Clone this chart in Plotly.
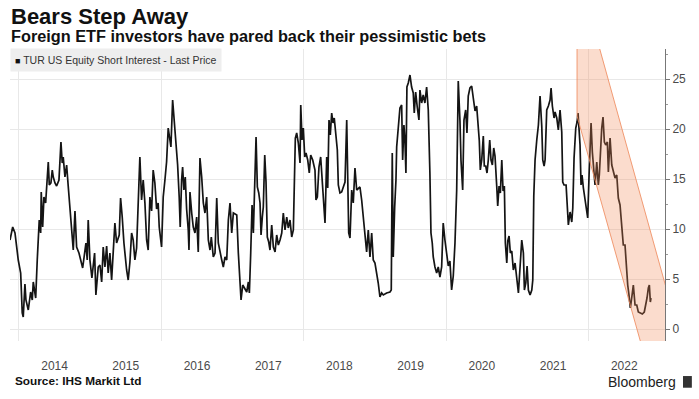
import datetime as dt
import plotly.graph_objects as go

# ---- data (decimal years, value) ----
years = [
2013.874,2013.912,2013.944,2013.990,2014.024,2014.046,2014.060,2014.084,2014.098,2014.131,
2014.164,2014.187,2014.201,2014.235,2014.257,2014.271,2014.285,2014.305,2014.313,2014.333,
2014.351,2014.375,2014.412,2014.426,2014.449,2014.468,2014.482,2014.506,2014.529,2014.562,
2014.590,2014.608,2014.622,2014.646,2014.670,2014.692,2014.716,2014.740,2014.763,2014.787,
2014.810,2014.843,2014.871,2014.895,2014.941,2014.959,2014.973,2014.997,2015.025,2015.063,
2015.081,2015.114,2015.138,2015.162,2015.184,2015.208,2015.232,2015.254,2015.278,2015.302,
2015.348,2015.372,2015.409,2015.428,2015.451,2015.475,2015.513,2015.535,2015.559,2015.583,
2015.605,2015.629,2015.653,2015.676,2015.699,2015.723,2015.746,2015.770,2015.794,2015.816,
2015.840,2015.864,2015.886,2015.910,2015.934,2015.956,2015.971,2016.004,2016.027,2016.051,
2016.074,2016.097,2016.121,2016.135,2016.159,2016.177,2016.201,2016.229,2016.251,2016.265,
2016.285,2016.299,2016.317,2016.336,2016.355,2016.378,2016.388,2016.402,2016.426,2016.448,
2016.472,2016.496,2016.518,2016.542,2016.566,2016.589,2016.612,2016.636,2016.659,2016.683,
2016.701,2016.729,2016.753,2016.777,2016.799,2016.823,2016.847,2016.869,2016.893,2016.917,
2016.940,2016.963,2016.987,2017.010,2017.058,2017.080,2017.104,2017.118,2017.142,2017.174,
2017.198,2017.221,2017.235,2017.254,2017.273,2017.291,2017.310,2017.329,2017.347,2017.367,
2017.385,2017.399,2017.417,2017.431,2017.451,2017.469,2017.487,2017.507,2017.525,2017.549,
2017.572,2017.596,2017.619,2017.642,2017.666,2017.690,2017.712,2017.736,2017.760,2017.782,
2017.806,2017.830,2017.853,2017.867,2017.881,2017.900,2017.923,2017.947,2017.957,2017.975,
2017.993,2018.013,2018.031,2018.055,2018.077,2018.097,2018.125,2018.157,2018.171,2018.190,
2018.213,2018.237,2018.256,2018.274,2018.298,2018.322,2018.336,2018.354,2018.372,2018.392,
2018.410,2018.428,2018.448,2018.471,2018.485,2018.508,2018.532,2018.555,2018.579,2018.603,
2018.617,2018.631,2018.649,2018.673,2018.695,2018.719,2018.743,2018.766,2018.789,2018.813,
2018.836,2018.860,2018.883,2018.906,2018.930,2018.954,2018.976,2019.000,2019.024,2019.046,
2019.070,2019.094,2019.117,2019.164,2019.211,2019.229,2019.243,2019.257,2019.277,2019.295,
2019.305,2019.327,2019.351,2019.375,2019.389,2019.407,2019.421,2019.435,2019.449,2019.468,
2019.492,2019.515,2019.538,2019.552,2019.572,2019.594,2019.618,2019.632,2019.656,2019.678,
2019.702,2019.726,2019.749,2019.772,2019.787,2019.805,2019.819,2019.843,2019.867,2019.889,
2019.913,2019.937,2019.959,2019.983,2020.030,2020.053,2020.077,2020.100,2020.124,2020.148,
2020.170,2020.194,2020.208,2020.232,2020.250,2020.274,2020.292,2020.310,2020.334,2020.358,
2020.381,2020.405,2020.428,2020.451,2020.465,2020.479,2020.499,2020.521,2020.535,2020.555,
2020.573,2020.591,2020.611,2020.629,2020.648,2020.667,2020.685,2020.709,2020.723,2020.742,
2020.760,2020.780,2020.798,2020.816,2020.830,2020.850,2020.864,2020.882,2020.900,2020.920,
2020.942,2020.966,2020.990,2021.013,2021.037,2021.060,2021.083,2021.097,2021.117,2021.135,
2021.153,2021.177,2021.201,2021.215,2021.229,2021.247,2021.271,2021.294,2021.317,2021.341,
2021.355,2021.374,2021.388,2021.411,2021.434,2021.458,2021.472,2021.490,2021.514,2021.528,
2021.552,2021.574,2021.598,2021.622,2021.636,2021.654,2021.683,2021.701,2021.715,2021.739,
2021.763,2021.777,2021.795,2021.819,2021.837,2021.851,2021.865,2021.879,2021.893,2021.907,
2021.926,2021.949,2021.973,2021.987,2022.006,2022.024,2022.034,2022.052,2022.076,2022.090,
2022.114,2022.136,2022.150,2022.170,2022.184,2022.202,2022.221,2022.240,2022.263,2022.277,
2022.301,2022.325,2022.347,2022.371,2022.395,2022.417,2022.441,2022.465,2022.487,2022.511,
2022.525,2022.549,2022.567,2022.586,2022.605,2022.628,2022.652,2022.676,2022.698,2022.722,
2022.754,2022.782,2022.802,2022.820,2022.839,2022.853,2022.867,2022.876,
]
short_interest = [
8.9,10.2,9.6,6.9,5.6,1.6,1.2,4.5,2.9,1.9,
3.7,2.9,4.7,3.1,6.9,8.9,10.9,9.6,13.7,10.2,
13.2,12.6,16.7,14.4,14.6,15.9,15.2,14.6,14.3,14.9,
18.7,16.6,17.2,15.2,16.4,14.3,12.0,10.2,7.9,11.8,
8.2,7.6,6.9,6.1,8.6,6.9,10.9,6.9,5.1,7.6,
3.4,6.2,6.4,4.7,8.2,6.2,8.3,5.6,7.6,4.9,
10.6,8.6,9.4,13.1,11.2,8.6,5.9,4.9,6.7,9.6,
8.9,6.9,8.1,13.6,17.2,12.9,14.9,12.6,8.9,7.9,
13.2,11.8,15.9,14.6,12.0,12.6,10.2,8.2,13.2,14.9,
16.7,20.1,18.9,18.2,22.9,21.2,18.9,16.4,13.2,10.2,
14.9,16.2,13.9,15.2,12.0,9.9,7.9,13.7,11.6,10.2,
9.6,11.2,7.7,17.1,15.2,12.6,11.6,13.2,8.9,7.9,
9.2,7.2,7.6,13.1,8.6,7.6,6.9,6.2,7.2,6.9,
10.9,12.6,9.6,11.6,11.4,7.6,4.2,2.9,4.4,3.9,
3.7,4.7,3.6,7.6,12.4,9.6,14.9,19.2,14.2,13.6,
12.6,9.4,11.2,12.2,17.4,14.7,9.2,8.7,7.9,10.4,
8.2,7.7,9.4,8.4,8.9,9.6,11.6,9.9,11.2,10.1,
10.9,9.2,9.9,15.2,19.1,19.6,18.6,16.6,22.4,18.9,
20.1,17.2,17.6,16.9,15.6,17.4,16.9,15.9,12.9,13.2,
16.2,17.2,14.9,12.9,10.6,17.2,14.1,20.9,19.4,21.6,
20.6,21.1,19.2,17.9,14.4,13.6,13.7,14.2,14.7,20.9,
12.9,9.6,9.1,13.9,12.6,16.1,13.9,14.1,14.2,12.9,
10.9,8.9,7.7,9.9,7.2,9.6,6.9,6.6,5.6,4.6,
3.2,3.6,3.4,3.6,3.7,3.9,17.6,7.2,12.2,14.9,
18.2,20.2,22.1,22.4,16.9,20.4,18.9,15.6,24.2,24.6,
25.4,24.2,23.6,21.6,23.7,22.2,20.9,23.9,22.6,23.4,
22.6,24.2,21.9,15.6,9.6,8.6,7.2,6.2,5.6,6.2,
5.2,6.2,10.6,8.9,6.3,6.8,3.9,5.3,8.6,13.9,
24.8,20.8,16.9,13.9,20.9,21.9,19.6,23.3,24.1,24.3,
23.3,21.8,22.3,19.9,18.8,15.9,16.9,19.3,16.3,16.3,
15.6,16.9,18.9,16.9,16.4,18.1,17.3,14.3,12.3,14.3,
13.6,16.9,13.8,14.3,8.6,6.6,8.8,9.3,7.6,7.8,
5.9,6.6,5.3,3.6,6.3,8.9,7.6,3.9,4.6,6.3,
3.9,3.4,3.9,4.9,13.3,16.9,18.9,20.4,23.3,20.3,
16.9,16.3,16.9,21.9,22.3,22.9,24.1,22.3,21.1,21.7,
21.1,19.9,21.9,19.7,14.7,14.4,14.4,12.7,10.4,11.7,
10.7,12.1,17.1,20.1,20.7,21.6,20.4,18.4,14.4,15.4,
14.1,13.1,12.1,11.1,15.4,19.7,20.6,17.7,15.4,14.4,
16.7,14.4,15.4,18.4,20.1,21.2,18.7,18.4,18.7,15.7,
19.1,16.4,15.7,15.1,15.4,13.1,12.4,10.1,8.4,8.4,
6.4,4.4,3.4,2.1,3.1,4.4,2.4,2.4,1.7,1.6,
1.5,1.7,2.4,3.1,4.1,4.4,2.7,3.1,
]

# downward-trend channel (annotation band), decimal years / values
band_years = [2021.837, 2021.837, 2022.078, 2023.367, 2022.797, 2021.837]
band_values = [21.3, 30.0, 30.0, -3.0, -3.0, 21.3]

year_labels = [2014, 2015, 2016, 2017, 2018, 2019, 2020, 2021, 2022]
grid_years = [2014, 2016, 2018, 2020, 2022]
y_ticks = [0, 5, 10, 15, 20, 25]

title = "Bears Step Away"
subtitle = "Foreign ETF investors have pared back their pessimistic bets"
series_name = "TUR US Equity Short Interest - Last Price"
source = "Source: IHS Markit Ltd"


def to_date(y):
    yr = int(y // 1)
    start = dt.datetime(yr, 1, 1)
    length = (dt.datetime(yr + 1, 1, 1) - start).total_seconds()
    return start + dt.timedelta(seconds=(y - yr) * length)


dates = [to_date(y) for y in years]
band_dates = [to_date(y) for y in band_years]

FONT = "Liberation Sans, Arial, sans-serif"

fig = go.Figure()
fig.add_trace(go.Scatter(
    x=dates, y=short_interest, mode="lines",
    line=dict(color="#141414", width=1.7),
    name=series_name, showlegend=False, hoverinfo="x+y",
))
fig.add_trace(go.Scatter(
    x=band_dates, y=band_values, mode="lines", fill="toself",
    fillcolor="rgba(242,140,90,0.30)",
    line=dict(color="rgba(238,140,95,0.85)", width=1),
    showlegend=False, hoverinfo="skip",
))

fig.update_layout(
    width=699, height=399,
    margin=dict(l=10, r=34, t=49, b=58),
    paper_bgcolor="white", plot_bgcolor="white",
    font=dict(family=FONT, color="#4a4a4a"),
    showlegend=False,
)

fig.update_xaxes(
    type="date",
    range=[to_date(2013.874), to_date(2023.073)],
    tickmode="array",
    tickvals=[to_date(y + 0.5) for y in year_labels],
    ticktext=[str(y) for y in year_labels],
    showgrid=False, ticks="", showline=False, zeroline=False,
    tickfont=dict(size=12, color="#4a4a4a"),
    ticklabelstandoff=16,
    minor=dict(tickmode="array", tickvals=[to_date(y) for y in grid_years],
               showgrid=True, gridcolor="#e8e8e8", gridwidth=1, ticks=""),
)
fig.update_yaxes(
    side="right", range=[-1.2, 28],
    tickmode="array", tickvals=y_ticks,
    showgrid=True, gridcolor="#e8e8e8", gridwidth=1,
    zeroline=False, showline=True, linecolor="#777777", linewidth=1,
    ticks="outside", ticklen=4, tickcolor="#777777",
    tickfont=dict(size=12, color="#4a4a4a"),
    minor=dict(dtick=2.5, ticks="outside", ticklen=2, tickcolor="#999999", showgrid=False),
)

# title + subtitle as one text block (two lines)
fig.add_annotation(x=0, y=1.1575, xref="paper", yref="paper", xanchor="left", yanchor="top",
                   text="<b><span style='font-size:22px'>" + title + "</span></b><br>"
                        "<b><span style='font-size:16.3px'>" + subtitle + "</span></b>",
                   showarrow=False, align="left", borderpad=0,
                   font=dict(size=14, color="#111111", family=FONT))
fig.add_annotation(x=0, y=0.961, xref="paper", yref="paper", xanchor="left", yanchor="middle",
                   text="<span style='font-size:9px;color:#111'>■</span> " + series_name,
                   showarrow=False, align="left", bgcolor="#eeeeee",
                   width=202, height=14, borderpad=4,
                   font=dict(size=10.5, color="#333333", family=FONT))
fig.add_annotation(x=0.004, y=-0.137, xref="paper", yref="paper", xanchor="left", yanchor="middle",
                   text="<b>" + source + "</b>", showarrow=False,
                   font=dict(size=11.8, color="#111111", family=FONT))
fig.add_annotation(x=1.018, y=-0.141, xref="paper", yref="paper", xanchor="right", yanchor="middle",
                   text="Bloomberg", showarrow=False, borderpad=0,
                   font=dict(size=14, color="#222222", family=FONT))
# small logo mark
fig.add_shape(type="rect", xref="paper", yref="paper",
              x0=1.0275, x1=1.041, y0=-0.160, y1=-0.120,
              fillcolor="#333333", line=dict(width=0))

fig.write_html("out.html", config={"displayModeBar": False},
               post_script="document.body.style.margin='0';")
